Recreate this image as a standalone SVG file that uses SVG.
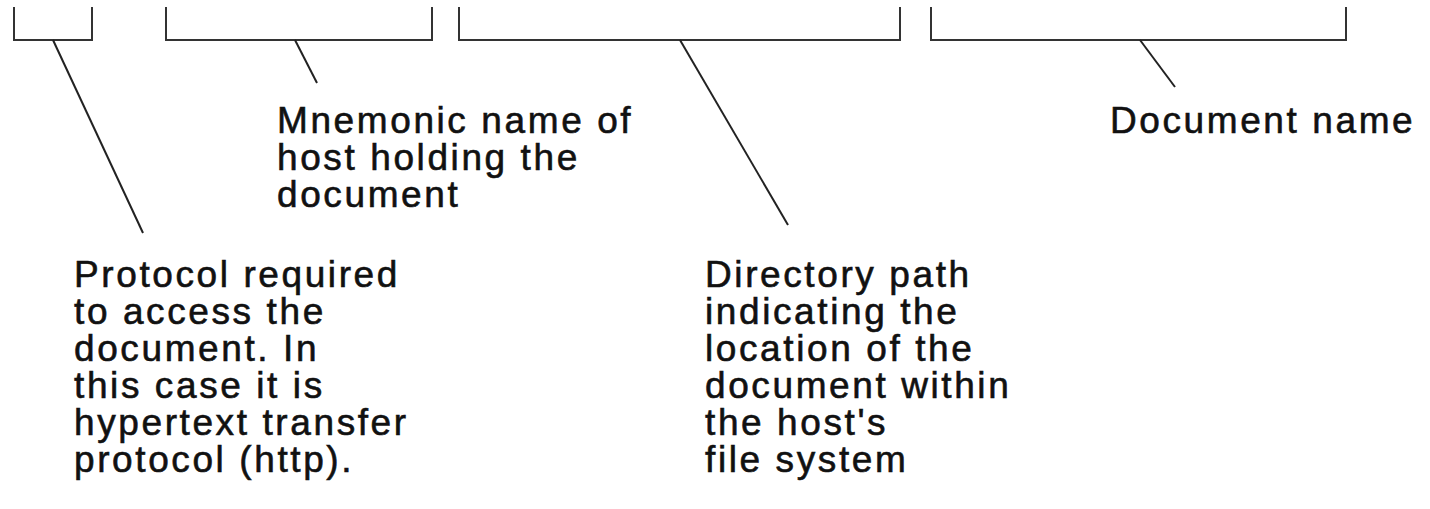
<svg xmlns="http://www.w3.org/2000/svg" width="1430" height="509" viewBox="0 0 1430 509">
  <style>
    .bracket { fill: none; stroke: #333; stroke-width: 2; stroke-linejoin: miter; }
    .leader { fill: none; stroke: #222; stroke-width: 2; }
    .label { font-family: "Liberation Sans", Arial, sans-serif; font-size: 37px; fill: #111; stroke: #111; stroke-width: 0.6; letter-spacing: 2.6px; }
  </style>
  <rect width="1430" height="509" fill="#fff"/>

  <!-- URL part brackets -->
  <g id="protocol-bracket"><path class="bracket" d="M14 7 V40 H92 V7"/></g>
  <g id="host-bracket"><path class="bracket" d="M166 7 V40 H432 V7"/></g>
  <g id="path-bracket"><path class="bracket" d="M459 7 V40 H900 V7"/></g>
  <g id="document-bracket"><path class="bracket" d="M931 7 V40 H1346 V7"/></g>

  <!-- Leader lines from brackets to labels -->
  <g id="connectors">
    <line class="leader" x1="53" y1="40" x2="143" y2="233"/>
    <line class="leader" x1="295" y1="40" x2="317" y2="83"/>
    <line class="leader" x1="680" y1="40" x2="788" y2="225"/>
    <line class="leader" x1="1140" y1="40" x2="1175" y2="87"/>
  </g>

  <g id="host-label">
    <text class="label" x="277" y="133">Mnemonic name of</text>
    <text class="label" x="277" y="170">host holding the</text>
    <text class="label" x="277" y="207">document</text>
  </g>

  <g id="document-label">
    <text class="label" x="1110" y="133">Document name</text>
  </g>

  <g id="protocol-label">
    <text class="label" x="74" y="287">Protocol required</text>
    <text class="label" x="74" y="324">to access the</text>
    <text class="label" x="74" y="361">document. In</text>
    <text class="label" x="74" y="398">this case it is</text>
    <text class="label" x="74" y="435">hypertext transfer</text>
    <text class="label" x="74" y="472">protocol (http).</text>
  </g>

  <g id="path-label">
    <text class="label" x="705" y="287">Directory path</text>
    <text class="label" x="705" y="324">indicating the</text>
    <text class="label" x="705" y="361">location of the</text>
    <text class="label" x="705" y="398">document within</text>
    <text class="label" x="705" y="435">the host's</text>
    <text class="label" x="705" y="472">file system</text>
  </g>
</svg>
